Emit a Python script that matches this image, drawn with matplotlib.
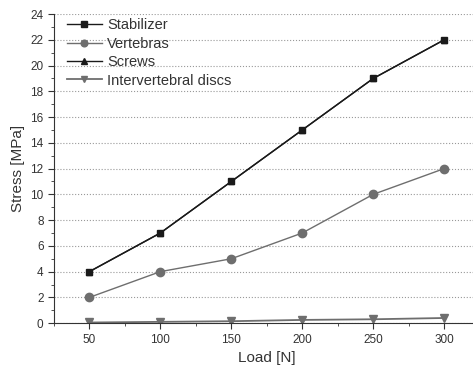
import numpy as np
import matplotlib
matplotlib.use('Agg')
import matplotlib.pyplot as plt
from matplotlib.ticker import MultipleLocator

# data
load = [50, 100, 150, 200, 250, 300]
stabilizer = [4, 7, 11, 15, 19, 22]
vertebras = [2, 4, 5, 7, 10, 12]
screws = [4, 7, 11, 15, 19, 22]
discs = [0.05, 0.1, 0.15, 0.25, 0.3, 0.4]

plt.rcParams['font.family'] = ['Liberation Sans', 'DejaVu Sans']

fig = plt.figure(figsize=(4.73, 3.71), dpi=100)
ax = fig.add_axes([0.114, 0.129, 0.9, 0.833])

dark = '#1a1a1a'
grey = '#6e6e6e'
ax.plot(load, stabilizer, color=dark, marker='s', ms=5, lw=1, label='Stabilizer')
ax.plot(load, vertebras, color=grey, marker='o', ms=6, lw=1, label='Vertebras')
ax.plot(load, screws, color=dark, marker='^', ms=5, lw=1, label='Screws')
ax.plot(load, discs, color=grey, marker='v', ms=6, lw=1.3, label='Intervertebral discs')

ax.set_xlim(25, 325)
ax.set_ylim(0, 24)
ax.xaxis.set_major_locator(MultipleLocator(50))
ax.xaxis.set_minor_locator(MultipleLocator(25))
ax.yaxis.set_major_locator(MultipleLocator(2))
ax.yaxis.set_minor_locator(MultipleLocator(1))
ax.grid(axis='y', which='major', linestyle=':', color='#999999', lw=0.8)
ax.set_axisbelow(True)

for s in ['top', 'right']:
    ax.spines[s].set_visible(False)
for s in ['left', 'bottom']:
    ax.spines[s].set_color('#333333')
ax.tick_params(which='major', length=4, labelsize=8.5, colors='#333333')
ax.tick_params(which='minor', length=2, colors='#333333')

ax.set_xlabel('Load [N]', fontsize=11, color='#333333')
ax.set_ylabel('Stress [MPa]', fontsize=11, color='#333333')

leg = ax.legend(loc='upper left', frameon=False, fontsize=10.5, handlelength=2.4,
                handletextpad=0.35, labelspacing=0.3, borderaxespad=0.0,
                markerscale=0.8, bbox_to_anchor=(0.017, 1.005))
for t in leg.get_texts():
    t.set_color('#333333')

fig.savefig('out.png', dpi=100)
